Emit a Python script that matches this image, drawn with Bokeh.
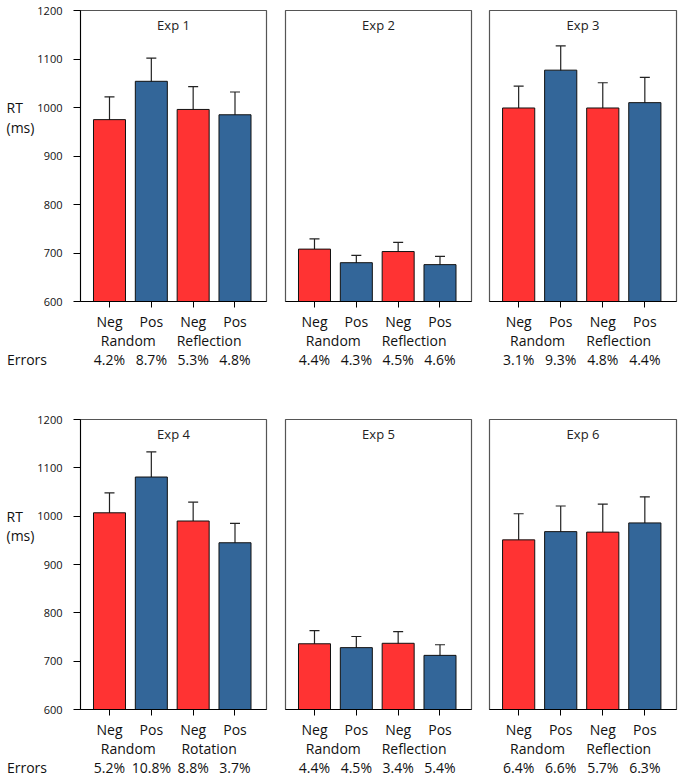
from bokeh.plotting import figure
from bokeh.models import Range1d, LinearAxis, FixedTicker, Whisker, TeeHead, ColumnDataSource, Label
from bokeh.layouts import column, row
from bokeh.core.properties import value
from bokeh.embed import file_html
from bokeh.resources import INLINE

conditions = ["Neg", "Pos", "Neg", "Pos"]
exp_names = ["Exp 1", "Exp 2", "Exp 3", "Exp 4", "Exp 5", "Exp 6"]
group_labels = [
    ["Random", "Reflection"],
    ["Random", "Reflection"],
    ["Random", "Reflection"],
    ["Random", "Rotation"],
    ["Random", "Reflection"],
    ["Random", "Reflection"],
]
rt_exp1 = [975, 1054, 996, 985]
rt_exp2 = [708, 680, 703, 676]
rt_exp3 = [999, 1077, 999, 1010]
rt_exp4 = [1007, 1081, 990, 945]
rt_exp5 = [736, 728, 737, 712]
rt_exp6 = [951, 968, 967, 986]
se_exp1 = [47, 48, 47, 47]
se_exp2 = [21, 15, 19, 17]
se_exp3 = [45, 50, 52, 52]
se_exp4 = [41, 52, 39, 40]
se_exp5 = [27, 23, 24, 22]
se_exp6 = [54, 53, 58, 54]
err_exp1 = ["4.2%", "8.7%", "5.3%", "4.8%"]
err_exp2 = ["4.4%", "4.3%", "4.5%", "4.6%"]
err_exp3 = ["3.1%", "9.3%", "4.8%", "4.4%"]
err_exp4 = ["5.2%", "10.8%", "8.8%", "3.7%"]
err_exp5 = ["4.4%", "4.5%", "3.4%", "5.4%"]
err_exp6 = ["6.4%", "6.6%", "5.7%", "6.3%"]
y_ticks = [600, 700, 800, 900, 1000, 1100, 1200]
rt_label = ["RT", "(ms)"]
errors_label = "Errors"

rts = [rt_exp1, rt_exp2, rt_exp3, rt_exp4, rt_exp5, rt_exp6]
ses = [se_exp1, se_exp2, se_exp3, se_exp4, se_exp5, se_exp6]
errs = [err_exp1, err_exp2, err_exp3, err_exp4, err_exp5, err_exp6]

RED = "#FF3333"
BLUE = "#336699"
FONT = "Open Sans"
TXT = "#111111"
xpos = [1, 2, 3, 4]
colors = [RED, BLUE, RED, BLUE]
YMIN, YMAX = 600, 1200


def style_x_axis(ax, standoff, tick_out=0, line=None):
    ax.axis_line_color = line
    ax.major_tick_out = tick_out
    ax.major_tick_in = 0
    ax.major_tick_line_color = "black" if tick_out else None
    ax.minor_tick_line_color = None
    ax.major_label_standoff = standoff
    ax.major_label_text_font = FONT
    ax.major_label_text_font_size = "14px"
    ax.major_label_text_color = TXT


def make_panel(i, left_border, frame_w, right_border, top_border, frame_h, bottom_border, **kw):
    first_col = i % 3 == 0
    w = left_border + frame_w + right_border
    h = top_border + frame_h + bottom_border
    p = figure(width=w, height=h, output_backend="svg", toolbar_location=None,
               x_range=Range1d(0.307, 4.753), y_range=Range1d(YMIN, YMAX),
               min_border_left=left_border, min_border_right=right_border,
               min_border_top=top_border, min_border_bottom=bottom_border,
               x_axis_type=None, y_axis_type=None, **kw)
    p.grid.visible = False
    p.outline_line_color = "#555555"
    p.outline_line_width = 1.2
    p.background_fill_color = "white"
    p.border_fill_color = None

    src = ColumnDataSource(dict(x=xpos, top=rts[i], color=colors,
                                upper=[r + s for r, s in zip(rts[i], ses[i])],
                                lower=[r - s for r, s in zip(rts[i], ses[i])]))
    p.vbar(x="x", top="top", bottom=YMIN, width=0.765, fill_color="color",
           line_color="#111111", line_width=1, source=src)
    wk = Whisker(base="x", upper="upper", lower="lower", source=src,
                 line_color="#222222", line_width=1.2,
                 upper_head=TeeHead(size=10, line_color="#222222", line_width=1.2),
                 lower_head=TeeHead(size=10, line_color="#222222", line_width=1.2))
    p.add_layout(wk)

    p.add_layout(Label(x=2.53, y=YMAX, y_offset=-14, text=exp_names[i], text_font=FONT,
                       text_font_size="13px", text_align="center", text_baseline="middle",
                       text_color="#222222"))

    ax1 = LinearAxis(ticker=FixedTicker(ticks=xpos),
                     major_label_overrides={x: c for x, c in zip(xpos, conditions)})
    style_x_axis(ax1, 4, tick_out=6, line="black")
    p.add_layout(ax1, "below")

    ax2 = LinearAxis(ticker=FixedTicker(ticks=[1.45, 3.38]),
                     major_label_overrides={1.45: group_labels[i][0], 3.38: group_labels[i][1]})
    style_x_axis(ax2, -3)
    p.add_layout(ax2, "below")

    ax3 = LinearAxis(ticker=FixedTicker(ticks=xpos),
                     major_label_overrides={x: e for x, e in zip(xpos, errs[i])})
    style_x_axis(ax3, -3)
    p.add_layout(ax3, "below")

    if first_col:
        ay = LinearAxis(ticker=FixedTicker(ticks=y_ticks))
        ay.axis_line_color = "black"
        ay.major_tick_out = 7
        ay.major_tick_in = 0
        ay.major_tick_line_color = "black"
        ay.minor_tick_line_color = None
        ay.major_label_standoff = 11
        ay.major_label_text_font = FONT
        ay.major_label_text_font_size = "11px"
        ay.major_label_text_color = TXT
        p.add_layout(ay, "left")
    return p


def make_side(width, top_border, frame_h, bottom_border, err_standoff):
    # transparent text strip lying under the left border of the first panel;
    # in a row its frame is aligned with the panel frames, so it shares their y scale
    h = top_border + frame_h + bottom_border
    s = figure(width=width, height=h, output_backend="svg", toolbar_location=None,
               x_range=Range1d(0, width), y_range=Range1d(YMIN, YMAX),
               min_border_left=0, min_border_right=0,
               min_border_top=top_border, min_border_bottom=bottom_border,
               x_axis_type=None, y_axis_type=None)
    s.grid.visible = False
    s.outline_line_color = None
    s.background_fill_color = None
    s.border_fill_color = None
    s.text(x=[6, 6], y=[1000, 959], text=rt_label, text_font=value(FONT),
           text_font_size="14px", text_baseline="middle", text_align="left", text_color=TXT)
    ax = LinearAxis(ticker=FixedTicker(ticks=[26.5]), major_label_overrides={26.5: errors_label})
    style_x_axis(ax, err_standoff)
    s.add_layout(ax, "below")
    return s


rows = []
specs = [(10, 291, 112), (6, 292, 68)]
for r in range(2):
    tb, fh, bb = specs[r]
    side = make_side(80, tb, fh, bb, 48)
    figs = [
        make_panel(3 * r + 0, 80, 186, 10, tb, fh, bb, margin=(0, 0, 0, -80)),
        make_panel(3 * r + 1, 9, 186, 9, tb, fh, bb),
        make_panel(3 * r + 2, 9, 187, 5, tb, fh, bb),
    ]
    rows.append(row(side, *figs))

layout = column(*rows)
open("out.html", "w").write(file_html(layout, INLINE))
